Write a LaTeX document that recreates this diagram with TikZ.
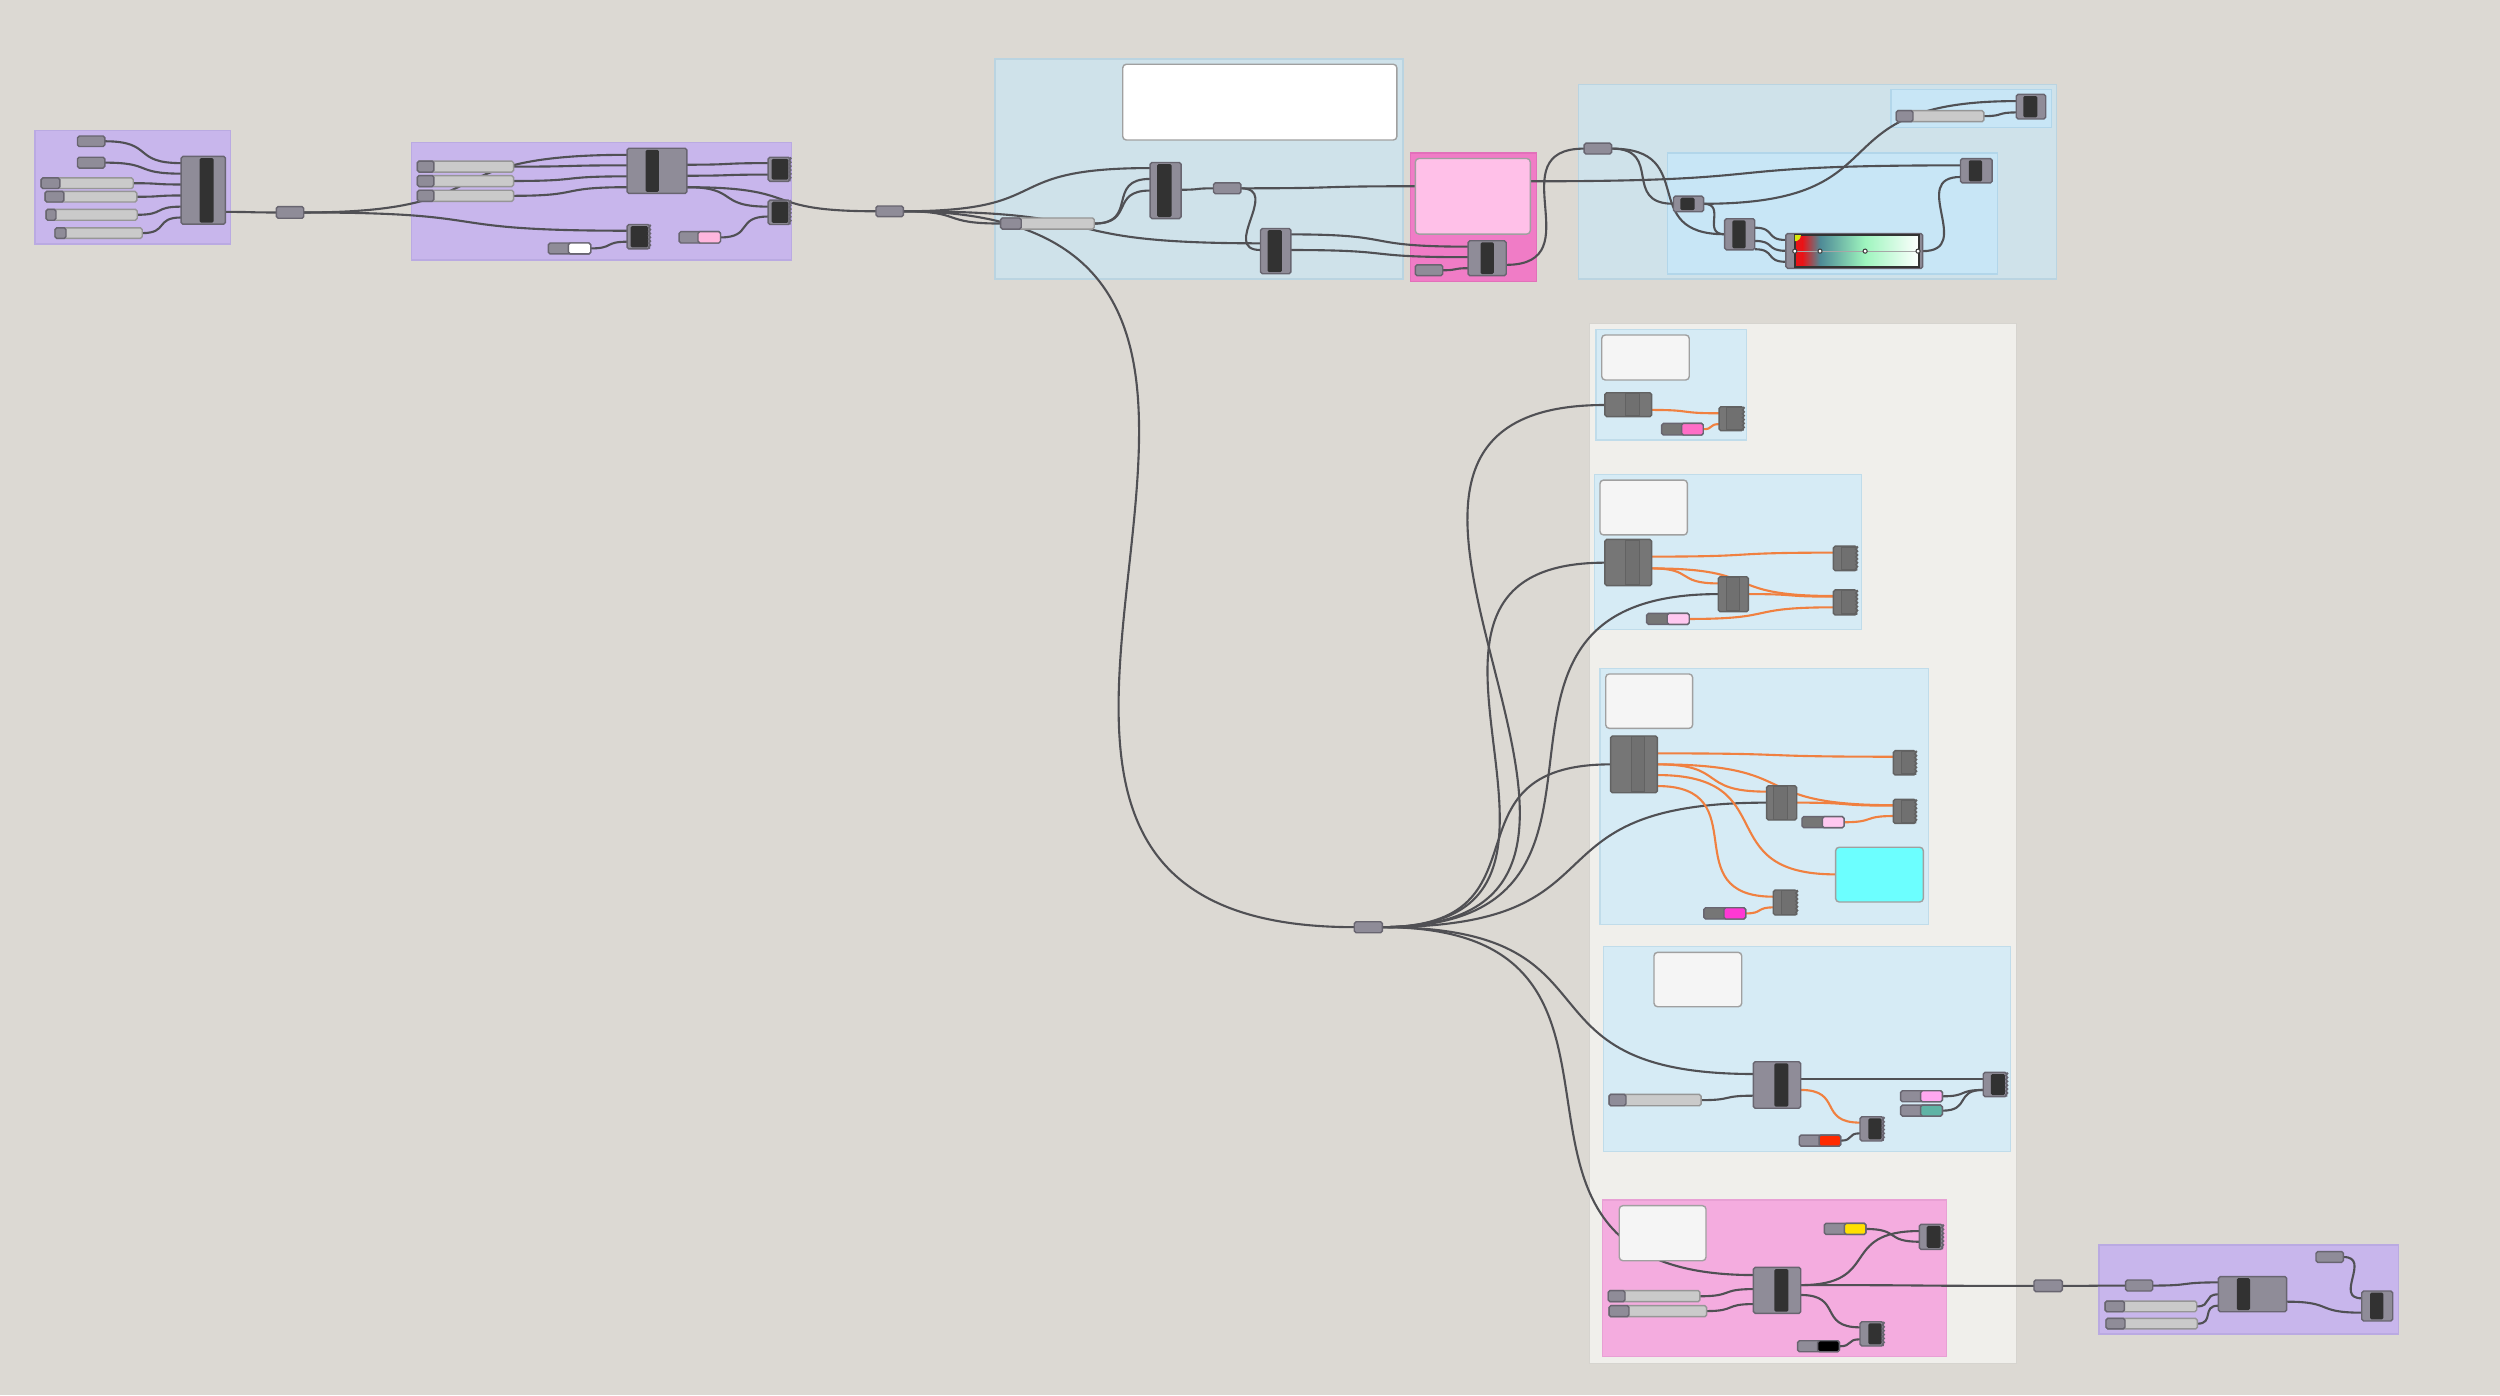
\documentclass[tikz,border=0pt]{standalone}
\usepackage{tikz}
\usetikzlibrary{fit,decorations.pathmorphing}
\usepackage{xcolor}

\definecolor{canvasc}{RGB}{220,217,211}
\definecolor{panelc}{RGB}{240,239,235}
\definecolor{panelline}{RGB}{214,212,207}
\definecolor{purplec}{RGB}{200,182,236}
\definecolor{purpleline}{RGB}{186,170,226}
\definecolor{bluec}{RGB}{207,226,234}
\definecolor{blueline}{RGB}{186,212,225}
\definecolor{skyc}{RGB}{200,230,246}
\definecolor{skyline}{RGB}{178,214,234}
\definecolor{jc}{RGB}{214,235,245}
\definecolor{jline}{RGB}{192,220,234}
\definecolor{hotc}{RGB}{240,124,198}
\definecolor{hotline}{RGB}{226,112,186}
\definecolor{pinkgc}{RGB}{244,172,223}
\definecolor{pinkgline}{RGB}{232,160,212}
\definecolor{panelpink}{RGB}{255,192,232}
\definecolor{compc}{RGB}{143,140,152}
\definecolor{compline}{RGB}{104,101,112}
\definecolor{barc}{RGB}{50,50,50}
\definecolor{offc}{RGB}{118,118,118}
\definecolor{offline}{RGB}{98,98,98}
\definecolor{offband}{RGB}{112,112,112}
\definecolor{sliderc}{RGB}{202,202,202}
\definecolor{sliderline}{RGB}{150,150,150}
\definecolor{notec}{RGB}{245,245,245}
\definecolor{noteline}{RGB}{160,160,160}
\definecolor{cyanc}{RGB}{108,255,255}
\definecolor{wirec}{RGB}{80,80,84}
\definecolor{orangec}{RGB}{240,128,64}
\definecolor{swpink}{RGB}{255,182,222}
\definecolor{swhot}{RGB}{255,110,199}
\definecolor{swlight}{RGB}{255,200,240}
\definecolor{swmagenta}{RGB}{255,56,212}
\definecolor{swred}{RGB}{255,42,0}
\definecolor{swrose}{RGB}{255,168,240}
\definecolor{swteal}{RGB}{95,179,165}
\definecolor{swyellow}{RGB}{255,224,0}
\definecolor{gradred}{RGB}{232,20,24}
\definecolor{gradteal}{RGB}{78,138,150}
\definecolor{gradmint}{RGB}{158,245,190}

\pgfdeclarelayer{groups}
\pgfdeclarelayer{wires}
\pgfsetlayers{groups,wires,main}

\begin{document}
\begin{tikzpicture}[x=0.159439mm, y=-0.159439mm,
  box/.style={inner sep=0pt, outer sep=0pt, line width=0.4pt, rounded corners=0.5pt},
  comp/.style={box, draw=compline, fill=compc},
  compoff/.style={box, draw=offline, fill=offc},
  slider/.style={box, draw=sliderline, fill=sliderc},
  note/.style={box, draw=noteline, rounded corners=1pt},
  bar/.style={fill=barc, rounded corners=0.4pt},
  band/.style={fill=offband, draw=offline, line width=0.3pt},
  rag/.style={draw=compline, line width=0.35pt, decorate,
    decoration={snake, amplitude=0.3pt, segment length=1.1pt}},
  grp/.style={line width=0.35pt},
  wire/.style={draw=wirec, line width=0.6pt},
  owire/.style={draw=orangec, line width=0.6pt},
  gh/.style={out=0, in=180, looseness=1.6}]
  \useasboundingbox (0,0) rectangle (1568,875);

  %% Canvas and groups
  \begin{pgfonlayer}{groups}
    \fill[canvasc] (0,0) rectangle (1568,875);
    \draw[grp, fill=panelc, draw=panelline] (996.8,202.8) rectangle (1264.5,855);
    \draw[grp, fill=purplec, draw=purpleline] (22,82) rectangle (144.5,153);
    \draw[grp, fill=purplec, draw=purpleline] (258,89.5) rectangle (496.5,163);
    \draw[grp, fill=bluec, draw=blueline] (624,37) rectangle (880,175);
    \draw[grp, fill=hotc, draw=hotline] (884.5,96) rectangle (963.5,176.5);
    \draw[grp, fill=bluec, draw=blueline] (990,53) rectangle (1290,175);
    \draw[grp, fill=skyc, draw=skyline] (1186,56.1) rectangle (1286.7,79.8);
    \draw[grp, fill=skyc, draw=skyline] (1046,96) rectangle (1252.7,171.9);
    %% groups inside the light panel
    \draw[grp, fill=jc, draw=jline] (1001,206.6) rectangle (1095.5,276);
    \draw[grp, fill=jc, draw=jline] (1000,297.5) rectangle (1167.6,394.7);
    \draw[grp, fill=jc, draw=jline] (1003.5,419.2) rectangle (1209.4,579.7);
    \draw[grp, fill=jc, draw=jline] (1005.6,593.7) rectangle (1261,722.3);
    \draw[grp, fill=pinkgc, draw=pinkgline] (1005,752.6) rectangle (1220.9,850.9);
    \draw[grp, fill=purplec, draw=purpleline] (1316.5,780.9) rectangle (1504.3,836.7);
  \end{pgfonlayer}

  %% Notes and panels
  \foreach \n/\xa/\ya/\xb/\yb/\f in {
    wp/704.2/40.3/876.1/87.8/white, pk/887.7/99.4/959.8/146.8/panelpink,
    wj1/1004.6/210.1/1059.5/238.3/notec, wj2/1003.5/301.1/1058.3/335.5/notec,
    wj3/1007.1/422.7/1061.6/456.8/notec, wj4/1037.4/597.3/1092.4/631.4/notec,
    wj5/1015.6/756.2/1070/790.7/notec, cy/1151.3/531.4/1206.3/565.7/cyanc}{
    \node[note, fill=\f, fit={(\xa,\ya) (\xb,\yb)}] (\n) {};
  }

  %% Relays and plain parameters
  \foreach \n/\xa/\ya/\xb/\yb in {
    pa1/48.6/85.3/65.8/91.9, pa2/48.6/98.6/65.8/105.4, ra/173.3/129.6/190.5/136.9,
    re/549.4/129.2/566.6/135.9, rd/761.1/114.7/778.3/121.5, pd/887.7/166.1/904.9/172.9,
    rf/993.6/89.8/1010.8/96.6, hub/849.4/578.1/867/585, rk/1275.7/802.8/1293.5/810.1,
    rl1/1333.2/802.8/1350.2/809.7, pl/1452.6/785/1469.8/791.7}{
    \node[comp, fit={(\xa,\ya) (\xb,\yb)}] (\n) {};
  }

  %% Sliders
  \foreach \n/\xa/\ya/\xb/\yb/\xh in {
    sa1/25.8/111.6/83.6/118.2/37.6, sa2/28.3/120/85.8/126.7/40.1,
    sa3/28.9/131.3/86.1/138.1/35.1, sa4/34.5/142.9/89.2/149.5/41.4,
    sb1/261.8/101/322.1/107.9/272.1, sb2/261.8/110.1/322.1/117/272.1,
    sb3/261.8/119.3/322.1/126.3/272.1, sd/627.6/136.7/686.3/143.7/640.5,
    sh/1189.3/69.4/1244.3/76.3/1199.8, sj4/1009.2/686.4/1066.9/693.5/1019.8,
    sj5a/1008.7/809.5/1066.2/816.4/1019.2, sj5b/1009.2/818.9/1070.4/825.8/1021.7,
    sl1/1320.3/816/1377.8/822.7/1332.4, sl2/1320.9/826.9/1378.2/833.5/1332.8}{
    \node[slider, fit={(\xa,\ya) (\xb,\yb)}] (\n) {};
    \draw[box, draw=compline, fill=compc] (\xa,\ya) rectangle (\xh,\yb);
  }

  %% Parameters with a colour swatch
  \foreach \n/\xa/\ya/\xb/\yb/\xs/\sw/\hc in {
    pb1/425.9/145.3/451.9/152.4/437.8/swpink/compc,
    pb2/343.9/152.4/370.5/159.2/356.5/white/compc,
    pj1/1042.2/265.5/1068.3/272.8/1054.7/swhot/offc,
    pj2/1032.8/384.7/1059.5/391.6/1045.7/swlight/offc,
    pj3a/1130.2/512.2/1156.6/519.1/1143/swlight/offc,
    pj3b/1068.7/569.3/1094.9/576.4/1081.3/swmagenta/offc,
    pj4r/1128.5/711.9/1154.5/718.8/1140.9/swred/compc,
    pj4p/1192.1/684.1/1218.2/691/1204.6/swrose/compc,
    pj4t/1192.1/693.1/1218.2/700/1204.6/swteal/compc,
    pj5y/1144.2/767.3/1170.3/774.2/1156.8/swyellow/compc,
    pj5k/1127.5/840.9/1153.6/847.8/1140/black/compc}{
    \node[box, draw=compline, fill=\hc, fit={(\xa,\ya) (\xb,\yb)}] (\n) {};
    \draw[box, draw=compline, fill=\sw] (\xs,\ya) rectangle (\xb,\yb);
  }

  %% Components
  \foreach \n/\xa/\ya/\xb/\yb/\ba/\bb in {
    ca/113.6/98.1/141.4/140.6/125.2/134, cb/393.3/93/430.8/121.3/404.9/413.3,
    cd1/721.4/101.9/740.8/137.1/725.8/734.8, cd2/790.6/143.3/809.6/171.7/795/804,
    cd3/920.8/151/944.7/172.9/928.6/936.9, ch1/1264.6/59.2/1283.1/74.6/1269/1277.8,
    cha/1049.6/123/1068.5/132.8/1054/1062.8, chb/1081.7/137.2/1100.6/156.7/1086.5/1094.9,
    chc/1229.6/99.5/1249.5/114.7/1234.8/1243.2, cj4a/1099.7/665.9/1129.4/695.1/1112.9/1121.6,
    cj5a/1099.7/794.9/1129.4/823.7/1112.9/1121.6, cl/1391.4/800.7/1434.2/822.7/1402.9/1411.2,
    cl2/1481.3/809.7/1500.7/828.5/1486.5/1494.9}{
    \node[comp, fit={(\xa,\ya) (\xb,\yb)}] (\n) {};
    \fill[bar] (\ba,\ya+1) rectangle (\bb,\yb-1);
  }
  %% Output components (ragged edge)
  \foreach \n/\xa/\ya/\xb/\yb/\ba/\bb in {
    cb1/481.8/98.6/495.5/113.7/484/494.5, cb2/481.8/125.5/495.5/140.8/484/494.5,
    cb3/393.3/140.8/407.4/156.1/395.5/406.5, cj4b/1166.6/700.4/1181.2/715.6/1171.8/1180.2,
    cj4c/1243.9/672.6/1258.6/687.8/1248.7/1257.5, cj5b/1203.8/767.9/1218.4/783.6/1208.4/1217.2,
    cj5c/1166.6/829/1181.2/844.2/1171.8/1180.2}{
    \node[comp, fit={(\xa,\ya) (\xb,\yb)}] (\n) {};
    \fill[bar] (\ba,\ya+1) rectangle (\bb,\yb-1);
    \draw[rag] (\n.north east) -- (\n.south east);
  }
  %% Disabled components
  \foreach \n/\xa/\ya/\xb/\yb/\ba/\bb in {
    cj1a/1006.6/246.3/1035.9/261.3/1019.8/1028.2, cj2a/1006.6/338.3/1035.9/367.3/1019.8/1028.2,
    cj2b/1077.7/361.7/1096.6/383.6/1083/1090.9, cj3a/1010.2/461.6/1039.5/497.2/1023.4/1031.3,
    cj3b/1108/492.8/1126.9/514.3/1112.6/1121}{
    \node[compoff, fit={(\xa,\ya) (\xb,\yb)}] (\n) {};
    \draw[band] (\ba,\ya+0.6) rectangle (\bb,\yb-0.6);
  }
  \foreach \n/\xa/\ya/\xb/\yb/\ba in {
    cj1b/1078.2/255.1/1093.4/270.1/1083, cj2c/1149.9/342.5/1164.5/357.9/1155.1,
    cj2d/1149.9/370/1164.5/385.7/1155.1, cj3c/1187.5/470.8/1201.5/486/1192.7,
    cj3d/1187.5/501.3/1201.5/516.4/1192.7, cj3e/1112.2/558.2/1126.9/573.9/1117.5}{
    \node[compoff, fit={(\xa,\ya) (\xb,\yb)}] (\n) {};
    \draw[band] (\ba,\ya+0.6) rectangle (\xb,\yb-0.6);
    \draw[rag, draw=offline] (\n.north east) -- (\n.south east);
  }

  %% Gradient
  \node[comp, fit={(1120.1,146.5) (1205.9,168.3)}] (grad) {};
  \fill[gradred] (1125.7,147.5) rectangle (1130.5,167.3);
  \shade[left color=gradred, right color=gradteal] (1130.5,147.5) rectangle (1141.5,167.3);
  \shade[left color=gradteal, right color=gradmint] (1141.5,147.5) rectangle (1169.8,167.3);
  \shade[left color=gradmint, right color=white] (1169.8,147.5) rectangle (1203.8,167.3);
  \draw[black!80, line width=0.5pt] (1125.7,147.5) rectangle (1203.8,167.3);
  \fill[yellow!85!green] (1125.7,147.5) -- (1129.5,147.5)
    arc[start angle=0, end angle=90, radius=3.8] -- cycle;
  \draw[gray!70, line width=0.2pt] (1125.7,157.5) -- (1203.8,157.5);
  \foreach \x in {1125.7,1141.5,1169.8,1203}
    \draw[fill=white, draw=black!75, line width=0.3pt] (\x,157.5) circle[radius=1.3];

  %% Wires
  \begin{pgfonlayer}{wires}
    \foreach \a/\ya/\b/\yb in {
      pa1/88.6/ca/102.3, pa2/102/ca/108.9, sa1/114.9/ca/115.7, sa2/123.4/ca/122.6,
      sa3/134.7/ca/129.6, sa4/146.2/ca/136.4, ca/132.9/ra/133.25,
      ra/133.25/cb/97.1, ra/133.25/cb3/144.7,
      sb1/104.5/cb/103.7, sb2/113.5/cb/110.6, sb3/122.8/cb/117.4,
      cb/103.3/cb1/102.3, cb/110.2/cb1/109.5, cb/117.4/cb2/129.6, cb/117.4/re/132.5,
      pb1/148.9/cb2/135.8, pb2/155.8/cb3/151.6,
      re/132.5/cd1/105.4, re/132.5/sd/140.2, re/132.5/cd2/152.6, re/132.5/hub/581.5,
      sd/140.2/cd1/112.2, sd/140.2/cd1/119.5, cd1/119/rd/118.1,
      rd/118.1/pk/116.8, rd/118.1/cd2/156.8,
      cd2/147/cd3/154.7, cd2/156.8/cd3/161.3, pd/169.5/cd3/168.2,
      cd3/166.1/rf/93.2, pk/113.7/chc/103.7,
      rf/93.2/cha/127.8, rf/93.2/chb/146.9, cha/127.8/chb/146.9, cha/127.8/ch1/63.4,
      sh/72.85/ch1/70.5,
      chb/142.8/grad/150.5, chb/151.1/grad/157.3, chb/156.3/grad/164.2,
      grad/157.5/chc/111,
      hub/581.5/cj1a/254, hub/581.5/cj2a/352.9, hub/581.5/cj2b/372.6,
      hub/581.5/cj3a/479.4, hub/581.5/cj3b/503.4, hub/581.5/cj4a/673.6,
      hub/581.5/cj5a/799.7,
      sj4/690/cj4a/687.2, cj4a/677/cj4c/677, pj4r/715.4/cj4b/710.8,
      pj4p/687.6/cj4c/683.6, pj4t/696.6/cj4c/683.6,
      sj5a/813/cj5a/808.5, sj5b/822.3/cj5a/817.9, cj5a/806/cj5b/772.1,
      pj5y/770.8/cj5b/778.8, cj5a/806/rk/806.5, cj5a/812.2/cj5c/832.5,
      pj5k/844.4/cj5c/840,
      rk/806.5/rl1/806.3, rl1/806.3/cl/804.3, sl1/819.4/cl/811.8,
      sl2/830.2/cl/818.9, cl/816.4/cl2/823.3, pl/788.4/cl2/814.3}{
      \draw[wire] (\a.east |- 0,\ya) to[gh] (\b.west |- 0,\yb);
    }
    %% preview wires
    \foreach \a/\ya/\b/\yb in {
      cj1a/257.1/cj1b/259.2, pj1/269.2/cj1b/266,
      cj2a/349.1/cj2c/346.6, cj2a/356.5/cj2b/365.9, cj2a/356.5/cj2d/373.8,
      cj2b/372.6/cj2d/374.2, pj2/388.2/cj2d/380.9,
      cj3a/472.5/cj3c/474.6, cj3a/479.4/cj3b/496.5, cj3a/479.4/cj3d/505,
      cj3a/486.1/cy/548.4, cj3a/493/cj3e/562.4, cj3b/503.4/cj3d/505.3,
      pj3a/515.7/cj3d/511.8, pj3b/572.9/cj3e/569.1,
      cj4a/683.6/cj4b/704.1}{
      \draw[owire] (\a.east |- 0,\ya) to[gh] (\b.west |- 0,\yb);
    }
  \end{pgfonlayer}
\end{tikzpicture}
\end{document}
